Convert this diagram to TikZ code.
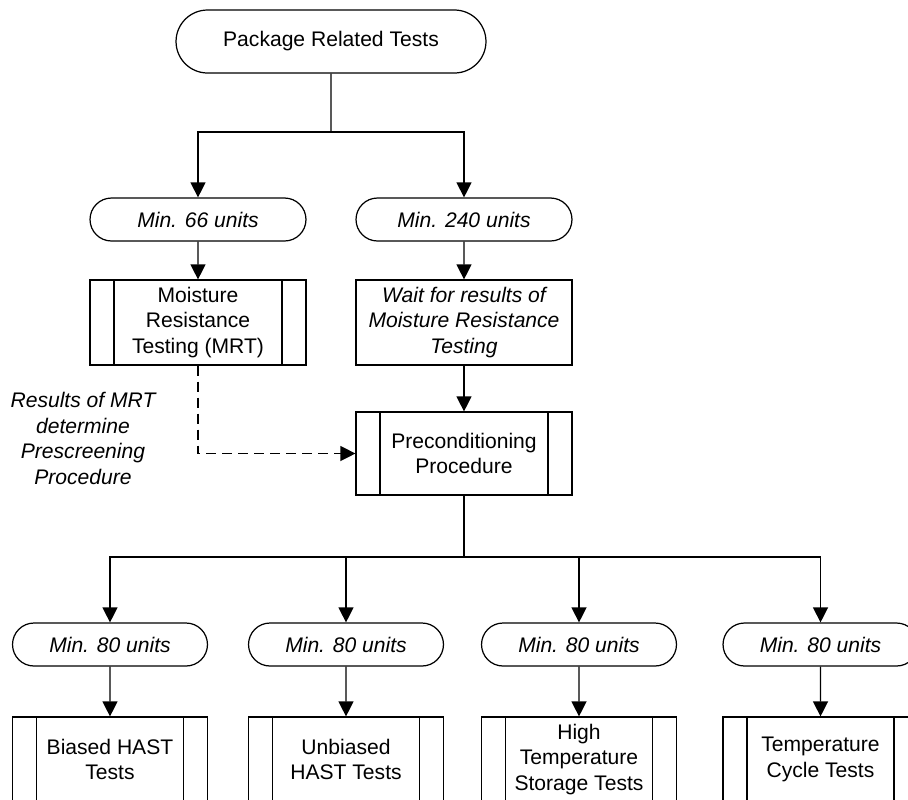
\documentclass[tikz,border=0pt]{standalone}
\usepackage{fontspec}
\setmainfont{Liberation Sans}
\usetikzlibrary{arrows.meta,shapes.misc}

\tikzset{
  terminal/.style={rounded rectangle, draw, fill=white, inner sep=0pt},
  process/.style={rectangle, draw, fill=white, align=center, inner sep=0pt,
    path picture={
      \draw ([xshift=0.48cm]path picture bounding box.north west) -- ([xshift=0.48cm]path picture bounding box.south west);
      \draw ([xshift=-0.48cm]path picture bounding box.north east) -- ([xshift=-0.48cm]path picture bounding box.south east);}},
  waitbox/.style={rectangle, draw, fill=white, align=center, inner sep=0pt},
  upper/.style={minimum width=4.32cm},
  lower/.style={minimum width=3.9cm},
}

\begin{document}
\begin{tikzpicture}[x=0.02cm,y=-0.02cm, line width=0.7pt,
  font=\fontsize{12}{14.5}\selectfont, >={Triangle[width=0.3cm,length=0.3cm]}]
\clip (0,0) rectangle (908,799);
\node[terminal, minimum width=6.2cm, minimum height=1.26cm] (top) at (331,41.5) {Package Related Tests};
\coordinate (split1) at (331,132);
\node[terminal, upper, minimum height=0.86cm, font=\fontsize{12}{14.5}\selectfont\itshape] (min66) at (198,219.5) {Min. 66 units};
\node[terminal, upper, minimum height=0.86cm, font=\fontsize{12}{14.5}\selectfont\itshape] (min240) at (464,219.5) {Min. 240 units};
\node[process, upper, minimum height=1.7cm] (mrt) at (198,322.5) {Moisture\\Resistance\\Testing (MRT)};
\node[waitbox, upper, minimum height=1.7cm, font=\fontsize{12}{14.5}\selectfont\itshape] (wait) at (464,322.5) {Wait for results of\\Moisture Resistance\\Testing};
\node[process, upper, minimum height=1.66cm] (pre) at (464,453.5) {Preconditioning\\Procedure};
\node[align=center, font=\fontsize{12}{14.5}\selectfont\itshape] (note) at (83,438.5) {Results of MRT\\determine\\Prescreening\\Procedure};
\coordinate (split2) at (464,557);

% min. 80 units per test
\node[terminal, lower, minimum height=0.86cm, font=\fontsize{12}{14.5}\selectfont\itshape] (mina) at (110,644.5) {Min. 80 units};
\node[terminal, lower, minimum height=0.86cm, font=\fontsize{12}{14.5}\selectfont\itshape] (minb) at (346,644.5) {Min. 80 units};
\node[terminal, lower, minimum height=0.86cm, font=\fontsize{12}{14.5}\selectfont\itshape] (minc) at (579,644.5) {Min. 80 units};
\node[terminal, lower, minimum height=0.86cm, font=\fontsize{12}{14.5}\selectfont\itshape] (mind) at (820.5,644.5) {Min. 80 units};
\node[process, lower, minimum height=1.7cm] (bhast) at (110,759.5) {Biased HAST\\Tests};
\node[process, lower, minimum height=1.7cm] (uhast) at (346,759.5) {Unbiased\\HAST Tests};
\node[process, lower, minimum height=1.7cm] (hts) at (579,759.5) {High\\Temperature\\Storage Tests};
\node[process, lower, minimum height=1.7cm] (tc) at (820.5,759.5) {Temperature\\Cycle Tests};

\draw (top) -- (split1);
\draw[->] (split1) -| (min66);
\draw[->] (split1) -| (min240);
\draw[->] (min66) -- (mrt);
\draw[->] (min240) -- (wait);
\draw[->] (wait) -- (pre);
\draw[->, dash pattern=on 0.2cm off 0.12cm] (mrt) |- (pre);
\draw (pre) -- (split2);
\draw[->] (split2) -| (mina);
\draw[->] (split2) -| (minb);
\draw[->] (split2) -| (minc);
\draw[->] (split2) -| (mind);
\draw[->] (mina) -- (bhast);
\draw[->] (minb) -- (uhast);
\draw[->] (minc) -- (hts);
\draw[->] (mind) -- (tc);
\end{tikzpicture}
\end{document}
